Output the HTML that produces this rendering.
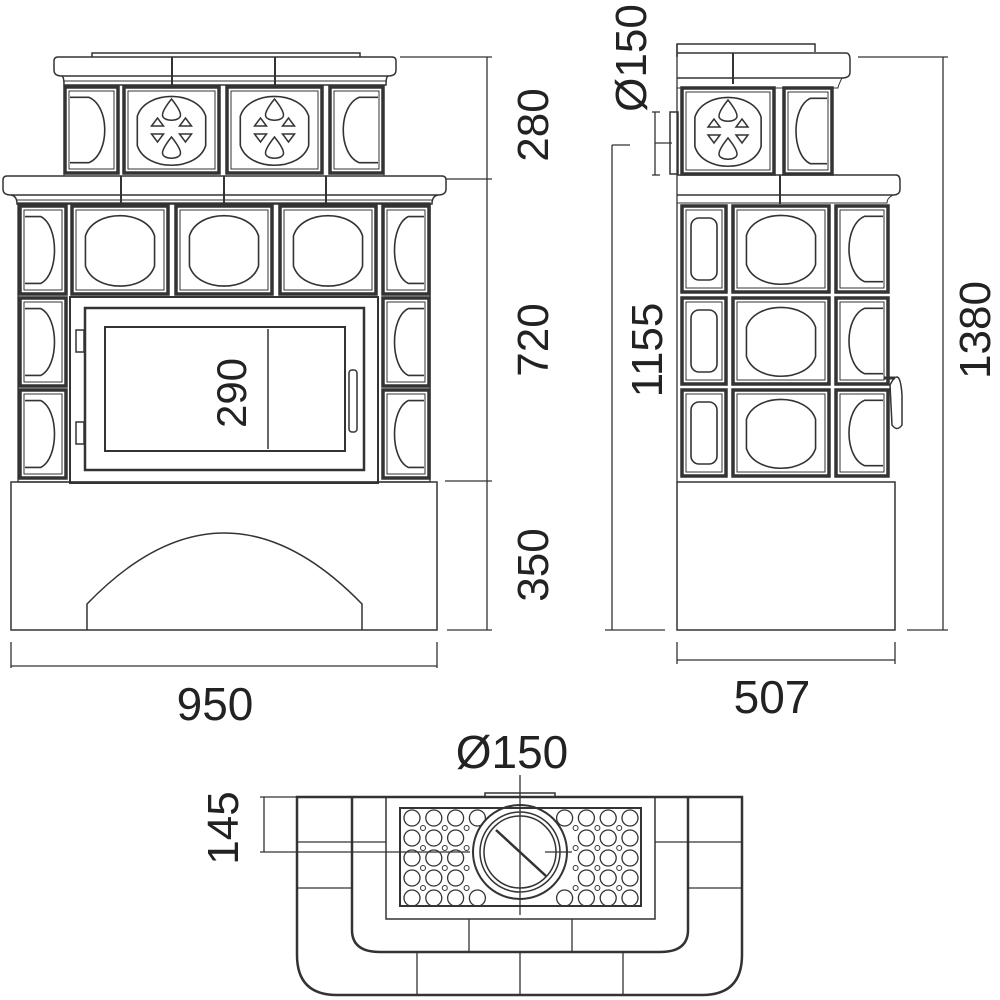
<!DOCTYPE html>
<html><head><meta charset="utf-8"><style>
html,body{margin:0;padding:0;background:#fff;}
svg{display:block;}
text{font-family:"Liberation Sans",sans-serif;fill:#222;}
</style></head><body>
<svg id="s" width="1000" height="1000" viewBox="0 0 1000 1000" xmlns="http://www.w3.org/2000/svg" fill="none" stroke="#333" stroke-width="1.5">
<g id="g"></g>
<rect x="70" y="297" width="308" height="186" stroke-width="2"/>
<rect x="85" y="308" width="279" height="162" stroke-width="2.5"/>
<rect x="105" y="327" width="240" height="124" stroke-width="2"/>
<rect x="76" y="330" width="8" height="22"/><rect x="76" y="422" width="8" height="22"/>
<rect x="349" y="370" width="8" height="62" rx="3"/>
<line x1="268" y1="329" x2="268" y2="449"/>
<text x="0" y="0" transform="translate(246,393) rotate(-90)" text-anchor="middle" font-size="42" stroke="none">290</text>
<rect x="11" y="482" width="426" height="148"/>
<path d="M87 630 V604 Q224 462 362 604 V630"/>
<g stroke-width="1.3">
<line x1="400" y1="57" x2="492" y2="57"/><line x1="446" y1="179" x2="492" y2="179"/>
<line x1="445" y1="481" x2="492" y2="481"/><line x1="447" y1="630" x2="492" y2="630"/>
<line x1="487" y1="57" x2="487" y2="630"/>
<line x1="11" y1="642" x2="11" y2="668"/><line x1="437" y1="642" x2="437" y2="668"/>
<line x1="11" y1="666" x2="437" y2="666"/>
</g>
<text transform="translate(548,125) rotate(-90)" text-anchor="middle" font-size="44" stroke="none">280</text>
<text transform="translate(548,340) rotate(-90)" text-anchor="middle" font-size="44" stroke="none">720</text>
<text transform="translate(548,565) rotate(-90)" text-anchor="middle" font-size="44" stroke="none">350</text>
<text x="215" y="720" text-anchor="middle" font-size="46" stroke="none">950</text>
<rect x="677" y="482" width="218" height="148"/>
<path d="M890 385 Q900 365 902 395 V425 Q897 432 892 425 Z"/>
<line x1="884" y1="378" x2="895" y2="378" stroke-width="3"/>
<rect x="670" y="112" width="8" height="62"/>
<g stroke-width="1.3">
<line x1="858" y1="57" x2="948" y2="57"/><line x1="907" y1="630" x2="948" y2="630"/>
<line x1="943" y1="57" x2="943" y2="630"/>
<line x1="612" y1="145" x2="630" y2="145"/><line x1="612" y1="145" x2="612" y2="630"/><line x1="605" y1="630" x2="665" y2="630"/>
<line x1="655" y1="112" x2="655" y2="175"/><line x1="652" y1="112" x2="660" y2="112"/><line x1="652" y1="175" x2="660" y2="175"/><line x1="655" y1="143" x2="672" y2="143"/>
<line x1="677" y1="642" x2="677" y2="664"/><line x1="895" y1="642" x2="895" y2="664"/><line x1="677" y1="660" x2="895" y2="660"/>
</g>
<text transform="translate(990,330) rotate(-90)" text-anchor="middle" font-size="44" stroke="none">1380</text>
<text transform="translate(662,350) rotate(-90)" text-anchor="middle" font-size="44" stroke="none">1155</text>
<text transform="translate(646,58) rotate(-90)" text-anchor="middle" font-size="44" stroke="none">Ø150</text>
<text x="772" y="713" text-anchor="middle" font-size="46" stroke="none">507</text>
<path d="M297 797 H742 V955 Q742 995 702 995 H337 Q297 995 297 955 Z" stroke-width="2.5"/>
<path d="M352 797 V930 Q352 952 380 952 H660 Q688 952 688 930 V797" stroke-width="2.5"/>
<rect x="386" y="797" width="269" height="122"/>
<rect x="400" y="808" width="241" height="98" stroke-width="2"/>
<path d="M485 797 V793 H555 V797"/>
<g stroke-width="1.3">
<line x1="297" y1="842" x2="352" y2="842"/><line x1="297" y1="888" x2="352" y2="888"/>
<line x1="688" y1="842" x2="742" y2="842"/><line x1="688" y1="888" x2="742" y2="888"/>
<line x1="352" y1="842" x2="386" y2="842"/><line x1="655" y1="842" x2="688" y2="842"/>
<line x1="469" y1="919" x2="469" y2="952"/><line x1="572" y1="919" x2="572" y2="952"/>
<line x1="417" y1="952" x2="417" y2="995"/><line x1="520" y1="952" x2="520" y2="995"/><line x1="623" y1="952" x2="623" y2="995"/>
<line x1="260" y1="797" x2="300" y2="797"/><line x1="260" y1="852" x2="470" y2="852"/><line x1="264" y1="797" x2="264" y2="852"/>
<line x1="520" y1="775" x2="520" y2="915"/><line x1="545" y1="852" x2="572" y2="852"/>
</g>
<text transform="translate(238,828) rotate(-90)" text-anchor="middle" font-size="44" stroke="none">145</text>
<text x="512" y="768" text-anchor="middle" font-size="46" stroke="none">Ø150</text>
</svg>
<script>
var g=document.getElementById('g');var NS='http://www.w3.org/2000/svg';
function el(t,a){var e=document.createElementNS(NS,t);for(var k in a)e.setAttribute(k,a[k]);g.appendChild(e);return e;}
function frame(x,y,w,h){el('rect',{x:x,y:y,width:w,height:h,'stroke-width':3.5});el('rect',{x:x+4,y:y+4,width:w-8,height:h-8,'stroke-width':1});}
function oval(x,y,w,h){var l=x+w*0.14,r=x+w*0.86,t=y+h*0.11,b=y+h*0.91,W=r-l,ty=y+h*0.34,by=y+h*0.68;
var ct=t-(ty-t)/3,cb=b+(b-by)/3;
el('path',{d:'M'+l+' '+ty+' C'+(l+0.12*W)+' '+ct+' '+(r-0.12*W)+' '+ct+' '+r+' '+ty+' V'+by+' C'+(r-0.12*W)+' '+cb+' '+(l+0.12*W)+' '+cb+' '+l+' '+by+' Z','stroke-width':1.6});}
function half(x,y,w,h,side){var t=y+h*0.12,b=y+h*0.88,e,a,r;
if(side=='L'){e=x+5;a=x+w*0.45;r=x+w*0.85;}else{e=x+w-5;a=x+w*0.55;r=x+w*0.15;}
el('path',{d:'M'+e+' '+t+' L'+a+' '+t+' C'+r+' '+(t+h*0.1)+' '+r+' '+(b-h*0.1)+' '+a+' '+b+' L'+e+' '+b,'stroke-width':1.6});}
function tile(x,y,w,h,k){frame(x,y,w,h);if(k=='o')oval(x,y,w,h);else if(k=='L'||k=='R')half(x,y,w,h,k);else if(k=='n')el('rect',{x:x+9,y:y+12,width:w-18,height:h-24,rx:8,'stroke-width':1.6});else if(k=='r')ros(x,y,w,h);}
function drop(cx,y0,y1){var m=(y0+y1)/2+3;el('path',{d:'M'+cx+' '+y0+' C'+(cx-4)+' '+(y0+5)+' '+(cx-9)+' '+(m-2)+' '+(cx-9)+' '+(m+2)+' C'+(cx-9)+' '+(y1+1)+' '+(cx+9)+' '+(y1+1)+' '+(cx+9)+' '+(m+2)+' C'+(cx+9)+' '+(m-2)+' '+(cx+4)+' '+(y0+5)+' '+cx+' '+y0+' Z','stroke-width':1.5});}
function ros(x,y,w,h){oval(x,y,w,h);var cx=x+w/2,cy=y+h/2;
drop(cx,cy-31,cy-9);drop(cx,cy+7,cy+29);
[-1,1].forEach(function(s){
el('path',{d:'M'+(cx+s*20)+' '+(cy-4)+' L'+(cx+s*8)+' '+(cy-4)+' L'+(cx+s*14)+' '+(cy-12)+' Z'});
el('path',{d:'M'+(cx+s*20)+' '+(cy+4)+' L'+(cx+s*8)+' '+(cy+4)+' L'+(cx+s*14)+' '+(cy+12)+' Z'});});}
function cornice(x1,x2,y,h,inset){el('path',{d:'M'+(x1+4)+' '+y+' H'+(x2-4)+' Q'+x2+' '+y+' '+x2+' '+(y+4)+' V'+(y+h-6)+' Q'+x2+' '+(y+h)+' '+(x2-8)+' '+(y+h)+' H'+(x1+8)+' Q'+x1+' '+(y+h)+' '+x1+' '+(y+h-6)+' V'+(y+4)+' Q'+x1+' '+y+' '+(x1+4)+' '+y+' Z'});
el('path',{d:'M'+(x1+8)+' '+(y+h)+' Q'+(x1+inset)+' '+(y+h+1)+' '+(x1+inset)+' '+(y+h+9)+' H'+(x2-inset)+' Q'+(x2-inset)+' '+(y+h+1)+' '+(x2-8)+' '+(y+h)});
el('line',{x1:x1+inset,y1:y+h+5,x2:x2-inset,y2:y+h+5,'stroke-width':1});}
el('path',{d:'M92 57 V53 H360 V57'});
cornice(54,396,57,19,10);
el('line',{x1:275,y1:57,x2:275,y2:86,'stroke-width':2});el('line',{x1:172,y1:57,x2:172,y2:86,'stroke-width':2});
tile(65,87,53,86,'L');tile(124,87,95,86,'r');tile(227,87,95,86,'r');tile(330,87,53,86,'R');
el('rect',{x:64,y:85,width:320,height:91,'stroke-width':1});
cornice(3,446,176,19,14);
[121,224,326].forEach(function(x){el('line',{x1:x,y1:176,x2:x,y2:205,'stroke-width':2});});
el('rect',{x:18,y:203,width:412,height:279,'stroke-width':1.3});
tile(20,206,46,88,'L');tile(72,206,96,88,'o');tile(176,206,96,88,'o');tile(280,206,96,88,'o');tile(383,206,46,88,'R');
tile(20,298,46,88,'L');tile(383,298,46,88,'R');tile(20,390,46,88,'L');tile(383,390,46,88,'R');
el('path',{d:'M677 57 V44 H815 V52'});
el('path',{d:'M677 53 H846 Q850 53 850 60 V72 Q850 78 842 78 H677'});
el('line',{x1:733,y1:53,x2:733,y2:84,'stroke-width':2});
el('path',{d:'M842 78 Q838 86 838 88 H677','stroke-width':1});
tile(682,88,92,86,'r');tile(784,88,48,86,'R');
el('path',{d:'M677 175 H896 Q900 175 900 181 V189 Q900 195 893 195 H677'});
el('path',{d:'M893 195 Q887 198 887 203 H677','stroke-width':1});
el('line',{x1:780,y1:175,x2:780,y2:204,'stroke-width':2});
el('line',{x1:677,y1:44,x2:677,y2:482,'stroke-width':1.3});
[206,298,390].forEach(function(y){tile(682,y,44,86,'n');tile(733,y,96,86,'o');tile(836,y,52,86,'R');});
var ccx=520,ccy=852;
for(var i=0;i<11;i++)for(var j=0;j<5;j++){var x=412+i*21.8,y=818+j*20;var d=Math.hypot(x-ccx,y-ccy);if(d<52)continue;el('circle',{cx:x,cy:y,r:8,'stroke-width':1.3});}
for(var i=0;i<10;i++)for(var j=0;j<4;j++){var x=423+i*21.8,y=828+j*20;if(Math.hypot(x-ccx,y-ccy)<52)continue;el('circle',{cx:x,cy:y,r:2.5,'stroke-width':1});}
el('circle',{cx:ccx,cy:ccy,r:47,fill:'#fff','stroke-width':2});el('circle',{cx:ccx,cy:ccy,r:40});el('circle',{cx:ccx,cy:ccy,r:36});
el('line',{x1:496,y1:830,x2:546,y2:876,'stroke-width':2.5});
</script>
</body></html>
